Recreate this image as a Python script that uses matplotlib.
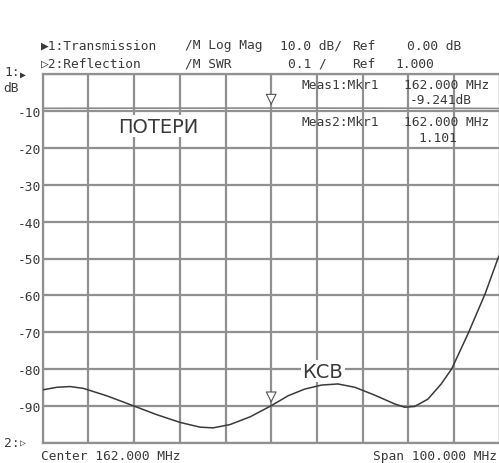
import numpy as np
import matplotlib
matplotlib.use('Agg')
import matplotlib.pyplot as plt

# trace 1: transmission, dB (almost flat near the marker value)
freq_t = [112, 122, 132, 142, 152, 162, 172, 182, 192, 202, 212]
trans_db = [-9.30, -9.28, -9.26, -9.25, -9.24, -9.241, -9.24, -9.25, -9.27, -9.30, -9.34]

# trace 2: reflection, SWR
freq_r = [112.0, 115.1, 118.0, 120.9, 126.0, 131.8, 136.9, 142.0, 146.4, 149.3,
          153.0, 157.4, 162.0, 165.7, 169.3, 173.0, 176.6, 180.3, 184.6, 189.0,
          191.2, 193.4, 196.3, 199.2, 201.5, 205.1, 208.8, 211.7, 212.0]
swr = [1.144, 1.151, 1.153, 1.148, 1.128, 1.101, 1.077, 1.056, 1.043, 1.041,
       1.050, 1.071, 1.101, 1.128, 1.146, 1.157, 1.160, 1.151, 1.130, 1.106,
       1.097, 1.099, 1.119, 1.160, 1.201, 1.297, 1.404, 1.503, 1.510]

mkr_freq = 162.0
mkr_trans = -9.241
mkr_swr = 1.101

db_ticks = list(range(-100, 1, 10))
db_labels = ['' if v in (0, -100) else str(v) for v in db_ticks]
freq_ticks = list(range(112, 213, 10))

W, H = 499, 464
grid_col = '#909090'
ink = '#3a3a3a'
mono = 'DejaVu Sans Mono'
fs = 9.3

fig = plt.figure(figsize=(W / 100, H / 100), dpi=100)
ax = fig.add_axes([42.7 / W, 1 - 444 / H, 457 / W, 369 / H])
ax.set_xlim(112, 212)
ax.set_ylim(-100, 0)
ax.set_xticks(freq_ticks)
ax.set_yticks(db_ticks)
ax.set_xticklabels([])
ax.set_yticklabels(db_labels, family=mono, fontsize=fs, color=ink)
ax.tick_params(length=0, pad=1.5)
ax.grid(True, color=grid_col, lw=1.6)
for s in ax.spines.values():
    s.set_color(grid_col)
    s.set_linewidth(1.6)

ax.plot(freq_t, trans_db, color='#8a8a8a', lw=1.2)

ax2 = ax.twinx()
ax2.set_ylim(1.0, 2.0)
ax2.set_yticks([])
for s in ax2.spines.values():
    s.set_visible(False)
ax2.plot(freq_r, swr, color=ink, lw=1.1)

# markers
arrow = dict(arrowstyle='-|>,head_width=0.35,head_length=0.7', fc='white', ec='#555555', lw=0.8)
ax.annotate('', xy=(mkr_freq, mkr_trans), xytext=(0, 11), textcoords='offset points', arrowprops=arrow)
ax2.annotate('', xy=(mkr_freq, mkr_swr), xytext=(0, 11), textcoords='offset points', arrowprops=arrow)

# labels on the traces
ax.text(0.252, 0.859, 'ПОТЕРИ', transform=ax.transAxes, fontsize=14, color=ink,
        family='DejaVu Sans', va='center', ha='center',
        bbox=dict(facecolor='white', edgecolor='none', pad=1))
ax.text(0.613, 0.195, 'КСВ', transform=ax.transAxes, fontsize=14, color=ink,
        family='DejaVu Sans', va='center', ha='center',
        bbox=dict(facecolor='white', edgecolor='none', pad=1))


def px_text(x, y, s, ha='left', size=fs):
    fig.text(x / W, 1 - y / H, s, ha=ha, va='center', family=mono, fontsize=size, color=ink)


# header lines
px_text(41, 46, '▶1:Transmission')
px_text(185, 46, '/M Log Mag')
px_text(280, 46, '10.0 dB/')
px_text(352, 46, 'Ref')
px_text(407, 46, '0.00 dB')
px_text(41, 64, '▷2:Reflection')
px_text(185, 64, '/M SWR')
px_text(288, 64, '0.1 /')
px_text(352, 64, 'Ref')
px_text(395, 64, '1.000')

# marker readouts
px_text(302, 86, 'Meas1:Mkr1')
px_text(404, 86, '162.000 MHz')
px_text(410, 101, '-9.241dB')
px_text(302, 123, 'Meas2:Mkr1')
px_text(404, 123, '162.000 MHz')
px_text(418, 138, '1.101')

# left side scale labels
px_text(4, 73, '1:')
px_text(3, 89, 'dB')
px_text(4, 444, '2:')
fig.text(20 / W, 1 - 75 / H, '▶', ha='left', va='center', family=mono, fontsize=7, color=ink)
fig.text(20 / W, 1 - 443 / H, '▷', ha='left', va='center', family=mono, fontsize=7, color=ink)

# bottom line
px_text(41, 457, 'Center 162.000 MHz')
px_text(497, 457, 'Span 100.000 MHz', ha='right')

fig.savefig('out.png', dpi=100, facecolor='white')
